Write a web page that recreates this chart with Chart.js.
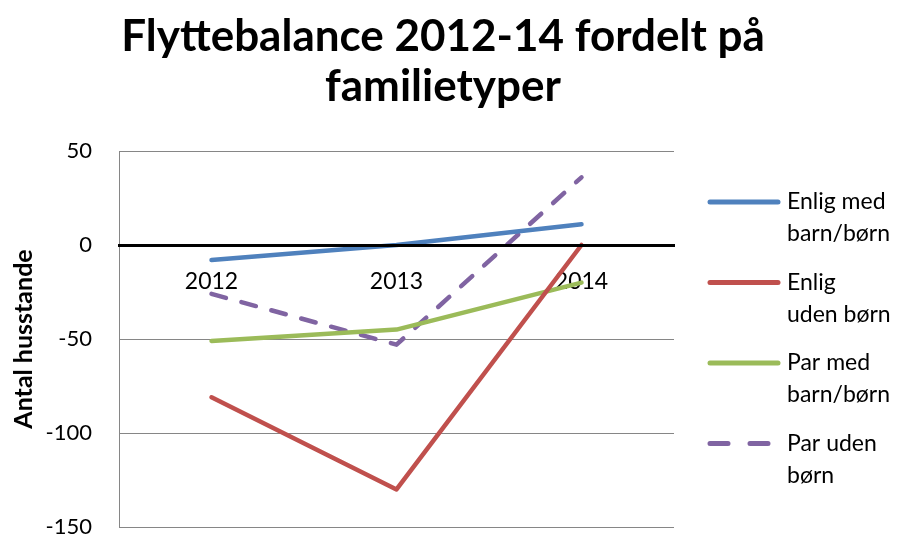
<!DOCTYPE html>
<html>
<head>
<meta charset="utf-8">
<script src="https://cdn.jsdelivr.net/npm/chart.js@4"></script>
<style>
  html, body { margin: 0; padding: 0; background: #fff; }
  #wrap { width: 900px; height: 535px; position: relative; }
</style>
</head>
<body>
<div id="wrap"><canvas id="chart"></canvas></div>
<script>
const YEARS = ['2012', '2013', '2014'];
const ENLIG_MED_BARN = [-8, 0, 11];
const ENLIG_UDEN_BORN = [-81, -130, 0];
const PAR_MED_BARN = [-51, -45, -20];
const PAR_UDEN_BORN = [-26, -53, 36];
const Y_TICKS = [50, 0, -50, -100, -150];
const TITLE_LINES = ['Flyttebalance 2012-14 fordelt på', 'familietyper'];

const FONT = 'Lato, "Open Sans", sans-serif';

// title centred over the whole picture (not just the plot) and
// legend drawn by hand so its labels can wrap over two lines
const decor = {
  id: 'decor',
  afterDraw(chart) {
    const ctx = chart.ctx;
    ctx.save();
    ctx.fillStyle = '#000';
    ctx.font = 'bold 44px ' + FONT;
    ctx.textAlign = 'center';
    ctx.textBaseline = 'alphabetic';
    TITLE_LINES.forEach((t, i) => ctx.fillText(t, 443, 51 + i * 50));

    const x0 = 708, x1 = 780, tx = 787;
    let y = 202;
    ctx.textAlign = 'left';
    chart.data.datasets.forEach(ds => {
      const dashed = ds.borderDash && ds.borderDash.length > 0;
      ctx.beginPath();
      ctx.strokeStyle = ds.borderColor;
      ctx.lineWidth = 5;
      ctx.lineCap = 'round';
      ctx.setLineDash(dashed ? [18, 22] : []);
      ctx.moveTo(x0 + 2, y);
      ctx.lineTo(x1 - 2, y);
      ctx.stroke();
      ctx.setLineDash([]);
      ctx.fillStyle = '#000';
      ctx.font = '23px ' + FONT;
      ctx.textBaseline = 'middle';
      ds.legendLines.forEach((t, i) => ctx.fillText(t, tx, y + i * 32));
      y += 80.5;
    });
    ctx.restore();
  }
};

const line = (label, legendLines, data, color, dash) => ({
  label, legendLines, data,
  borderColor: color,
  backgroundColor: color,
  borderWidth: 4.5,
  borderCapStyle: 'round',
  borderJoinStyle: 'round',
  borderDash: dash || [],
  pointRadius: 0,
  tension: 0,
});

new Chart(document.getElementById('chart'), {
  type: 'line',
  data: {
    labels: YEARS,
    datasets: [
      line('Enlig med barn/børn', ['Enlig med', 'barn/børn'], ENLIG_MED_BARN, '#4F81BD'),
      line('Enlig uden børn', ['Enlig', 'uden børn'], ENLIG_UDEN_BORN, '#C0504D'),
      line('Par med barn/børn', ['Par med', 'barn/børn'], PAR_MED_BARN, '#9BBB59'),
      line('Par uden børn', ['Par uden', 'børn'], PAR_UDEN_BORN, '#8064A2', [15, 16]),
    ]
  },
  options: {
    responsive: true,
    maintainAspectRatio: false,
    animation: false,
    layout: { padding: { left: 0, right: 226, top: 151, bottom: 8 } },
    scales: {
      x: {
        position: { y: 0 },
        offset: true,
        grid: { display: false, drawTicks: false },
        border: { display: true, color: '#000', width: 3, z: 1 },
        ticks: { color: '#000', font: { family: FONT, size: 23 }, padding: 23, maxRotation: 0 },
      },
      y: {
        min: -150,
        max: 50,
        afterBuildTicks: s => { s.ticks = Y_TICKS.map(v => ({ value: v })); },
        afterFit: s => { s.width = 119; s.paddingTop = 0; s.paddingBottom = 0; },
        grid: {
          color: c => c.tick && c.tick.value === 0 ? 'rgba(0,0,0,0)' : '#868686',
          lineWidth: 1,
          drawTicks: false,
        },
        border: { display: true, color: '#868686', width: 1 },
        ticks: { color: '#000', font: { family: FONT, size: 22 }, padding: 27 },
        title: {
          display: true,
          text: 'Antal husstande',
          color: '#000',
          font: { family: FONT, size: 25, weight: 'bold' },
          padding: { top: 9, bottom: 0 },
        },
      }
    },
    plugins: {
      legend: { display: false },
      tooltip: { enabled: false },
      title: { display: false },
    }
  },
  plugins: [decor]
});
</script>
</body>
</html>
